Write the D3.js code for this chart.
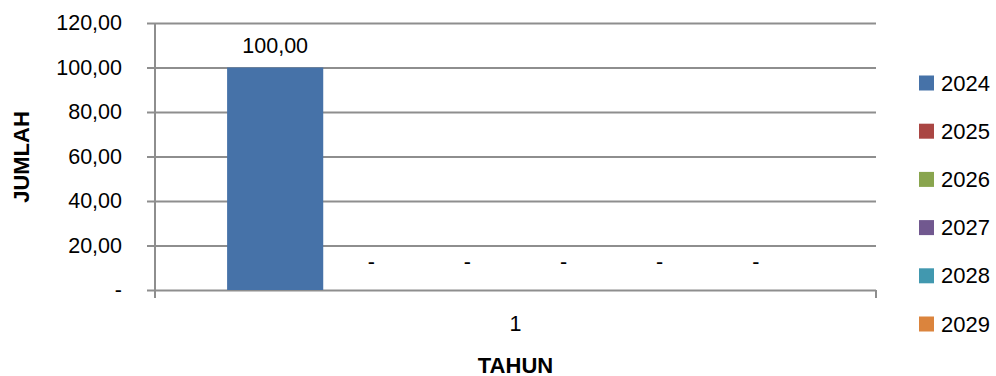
<!DOCTYPE html>
<html>
<head>
<meta charset="utf-8">
<script src="https://cdn.jsdelivr.net/npm/d3@7"></script>
<style>
  html, body { margin: 0; padding: 0; background: #fff; }
  svg { display: block; font-family: "Liberation Sans", Arial, sans-serif; }
</style>
</head>
<body>
<svg id="chart" width="996" height="376"></svg>
<script>
// Data
const categories = ["1"];
const seriesNames = ["2024", "2025", "2026", "2027", "2028", "2029"];
const seriesValues = [100, 0, 0, 0, 0, 0];
const seriesColors = ["#4672A8", "#AA4643", "#89A54E", "#71588F", "#4198AF", "#DB843D"];
const yTicks = [0, 20, 40, 60, 80, 100, 120];

// Excel-style accounting format: comma decimals, zero shown as a dash
const fmt = v => v === 0 ? "-" : d3.format(".2f")(v).replace(".", ",");

const svg = d3.select("#chart");
const plot = { left: 155, right: 876, top: 23, bottom: 290 };

const x = d3.scaleBand().domain(categories).range([plot.left, plot.right]);
const xs = d3.scaleBand().domain(seriesNames).range([0, x.bandwidth()])
  .paddingInner(0).paddingOuter(0.75);
const y = d3.scaleLinear().domain([0, 120]).range([plot.bottom, plot.top]);

const gridColor = "#8e8e8e";
const labelSize = 21.5;

// Horizontal gridlines with small outward ticks on the left
const yAxis = d3.axisLeft(y).tickValues(yTicks)
  .tickSize(-(plot.right - plot.left)).tickSizeOuter(0).tickPadding(33).tickFormat(fmt);
const gy = svg.append("g").attr("transform", `translate(${plot.left},0)`).call(yAxis);
gy.select(".domain").remove();
gy.selectAll(".tick line").attr("x1", -8).attr("stroke", gridColor).attr("stroke-width", 2);
gy.selectAll(".tick text").attr("font-size", labelSize).attr("fill", "#000")
  .attr("font-family", "'Liberation Sans', Arial, sans-serif");

// Vertical axis line
svg.append("line")
  .attr("x1", plot.left).attr("x2", plot.left)
  .attr("y1", plot.top).attr("y2", plot.bottom + 8)
  .attr("stroke", gridColor).attr("stroke-width", 2);

// Category axis
const xAxis = d3.axisBottom(x).tickSize(0).tickPadding(26);
const gx = svg.append("g").attr("transform", `translate(0,${plot.bottom})`).call(xAxis);
gx.select(".domain").remove();
gx.selectAll(".tick text").attr("font-size", labelSize).attr("fill", "#000")
  .attr("font-family", "'Liberation Sans', Arial, sans-serif");
// Category boundary ticks
svg.selectAll(".xedge").data(x.range()).enter().append("line")
  .attr("x1", d => d).attr("x2", d => d)
  .attr("y1", plot.bottom).attr("y2", plot.bottom + 8)
  .attr("stroke", gridColor).attr("stroke-width", 2);

// Bars
const groups = svg.selectAll(".cat").data(categories).enter().append("g")
  .attr("transform", d => `translate(${x(d)},0)`);
const rows = seriesNames.map((s, i) => ({ name: s, value: seriesValues[i], color: seriesColors[i] }));
groups.selectAll("rect").data(rows).enter().append("rect")
  .attr("x", d => xs(d.name))
  .attr("width", xs.bandwidth())
  .attr("y", d => y(d.value))
  .attr("height", d => y(0) - y(d.value))
  .attr("fill", d => d.color);

// Value labels
groups.selectAll("text.val").data(rows).enter().append("text")
  .attr("class", "val")
  .attr("x", d => xs(d.name) + xs.bandwidth() / 2)
  .attr("y", d => d.value === 0 ? y(0) - 28 : y(d.value) - 22)
  .attr("text-anchor", "middle")
  .attr("dominant-baseline", "central")
  .attr("font-size", labelSize)
  .text(d => fmt(d.value));

// Axis titles
svg.append("text")
  .attr("x", (plot.left + plot.right) / 2).attr("y", 365)
  .attr("text-anchor", "middle").attr("dominant-baseline", "central")
  .attr("font-size", 22).attr("font-weight", "bold")
  .text("TAHUN");
svg.append("text")
  .attr("transform", `translate(21,157) rotate(-90)`)
  .attr("text-anchor", "middle").attr("dominant-baseline", "central")
  .attr("font-size", 22).attr("font-weight", "bold")
  .text("JUMLAH");

// Legend
const legend = svg.append("g").attr("transform", "translate(919,83)");
const li = legend.selectAll("g").data(rows).enter().append("g")
  .attr("transform", (d, i) => `translate(0,${i * 48.2})`);
li.append("rect").attr("x", 0).attr("y", -7.5).attr("width", 15).attr("height", 15)
  .attr("fill", d => d.color);
li.append("text").attr("x", 22).attr("y", 0).attr("dominant-baseline", "central")
  .attr("font-size", 22).text(d => d.name);
</script>
</body>
</html>
